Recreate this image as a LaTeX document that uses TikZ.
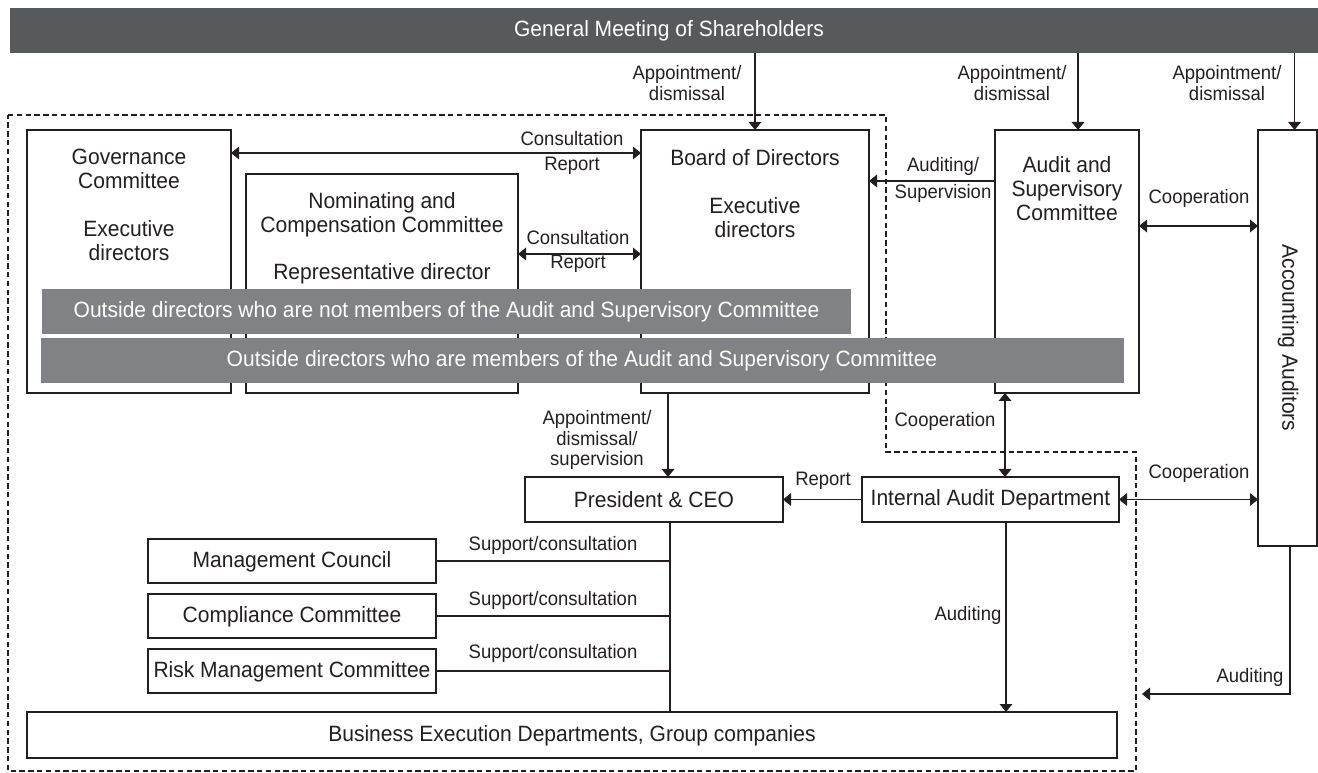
\documentclass[tikz,border=0pt]{standalone}
\usepackage{fontspec}
\setmainfont[FakeStretch=0.95]{Liberation Sans}
\usetikzlibrary{arrows.meta,calc}
\definecolor{ink}{HTML}{231F20}
\definecolor{darkbar}{HTML}{58595B}
\definecolor{midbar}{HTML}{808285}
\begin{document}
\begin{tikzpicture}[x=0.75pt,y=-0.75pt,
  every node/.style={text=ink, inner sep=0pt, outer sep=0pt},
  wh/.style 2 args={minimum width=#1*0.75pt, minimum height=#2*0.75pt},
  box/.style={draw=ink, line width=1.1pt, fill=white, rectangle},
  bar/.style={fill=midbar, rectangle, draw=none},
  main/.style={font=\fontsize{16.6}{18}\selectfont, align=center},
  lbl/.style={font=\fontsize{14.6}{15.3}\selectfont, align=center},
  conn/.style={draw=ink, line width=0.8pt},
  arr/.style={conn, -{Triangle[length=6pt,width=9.5pt]}},
  darr/.style={conn, {Triangle[length=6pt,width=9.5pt]}-{Triangle[length=6pt,width=9.5pt]}},
  frame/.style={draw=ink, line width=1.2pt, dash pattern=on 4pt off 2.6pt}
]
\useasboundingbox (0,0) rectangle (1318,773);

% dashed boundary
\draw[frame] (8,115) -- (886,115) -- (886,452) -- (1136,452) -- (1136,771) -- (8,771) -- cycle;

% top bar
\node[rectangle, fill=darkbar, wh={1308}{45}] (gm) at (664,30.5) {};
\node[main, text=white] (gmt) at (669,31) {General Meeting of Shareholders};

% boxes
\node[box, wh={204}{263}] (gov) at (129,261.5) {};
\node[box, wh={272}{219}] (nom) at (382,283.5) {};
\node[box, wh={228}{263}] (board) at (755,261.5) {};
\node[box, wh={144}{263}] (audit) at (1067,261.5) {};
\node[box, wh={59}{416}] (acc) at (1287.5,338) {};
\node[box, wh={258}{45}] (pres) at (654,499.5) {};
\node[box, wh={257}{45}] (ia) at (990.5,499.5) {};
\node[box, wh={288}{44}] (mc) at (292,561) {};
\node[box, wh={288}{44}] (cc) at (292,616) {};
\node[box, wh={288}{44}] (rmc) at (292,671) {};
\node[box, wh={1090}{46}] (bus) at (572,735) {};

% box texts
\node[main] (govt1) at (129,168.5) {Governance\\Committee};
\node[main] (govt2) at (129,240.5) {Executive\\directors};
\node[main] (nomt1) at (382,214.5) {Nominating and\\Compensation Committee};
\node[main] (nomt2) at (382,274) {Representative director};
\node[main] (boardt1) at (755,158) {Board of Directors};
\node[main] (boardt2) at (755,217.5) {Executive\\directors};
\node[main] (auditt) at (1067,189) {Audit and\\Supervisory\\Committee};
\node[main, rotate=-90] (acct) at (1288,338) {Accounting Auditors};
\node[main] (prest) at (654,500) {President \& CEO};
\node[main] (iat) at (990.5,500) {Internal Audit Department};
\node[main] (mct) at (292,562) {Management Council};
\node[main] (cct) at (292,617) {Compliance Committee};
\node[main] (rmct) at (292,672) {Risk Management Committee};
\node[main] (bust) at (572,736) {Business Execution Departments, Group companies};

% connectors
\draw[arr] (board.north |- gm.south) -- (board.north);
\draw[arr] ($(audit.north |- gm.south)+(11,0)$) -- ($(audit.north)+(11,0)$);
\draw[arr] ($(acc.north |- gm.south)+(7,0)$) -- ($(acc.north)+(7,0)$);
\draw[darr] (gov.east |- 0,153) -- (board.west |- 0,153);
\draw[darr] (nom.east |- 0,254) -- (board.west |- 0,254);
\draw[arr] (audit.west |- 0,181) -- (board.east |- 0,181);
\draw[darr] (audit.east |- 0,226) -- (acc.west |- 0,226);
\draw[arr] (board.south -| 668,0) -- (pres.north -| 668,0);
\draw[arr] (ia.west) -- (pres.east);
\draw[darr] (audit.south -| 1005,0) -- (ia.north -| 1005,0);
\draw[darr] (ia.east) -- (acc.west |- ia.east);
\draw[conn] (pres.south -| 670,0) -- (bus.north -| 670,0);
\draw[conn] (mc.east) -- (mc.east -| 670,0);
\draw[conn] (cc.east) -- (cc.east -| 670,0);
\draw[conn] (rmc.east) -- (rmc.east -| 670,0);
\draw[arr] (ia.south -| 1006,0) -- (bus.north -| 1006,0);
\coordinate (audend) at (1142,694);
\draw[arr] (acc.south -| 1290,0) |- (audend);

% gray bars
\node[bar, wh={809}{45}] (bar1) at (446.5,311.5) {};
\node[main, text=white] (bar1t) at (446.5,312) {Outside directors who are not members of the Audit and Supervisory Committee};
\node[bar, wh={1083}{45}] (bar2) at (582.5,360.5) {};
\node[main, text=white] (bar2t) at (582,361) {Outside directors who are members of the Audit and Supervisory Committee};

% labels
\node[lbl] (l1) at (687,83) {Appointment/\\dismissal};
\node[lbl] (l2) at (1012,83) {Appointment/\\dismissal};
\node[lbl] (l3) at (1227,83) {Appointment/\\dismissal};
\node[lbl] (l4) at (572,139) {Consultation};
\node[lbl] (l5) at (572,166) {Report};
\node[lbl] (l6) at (578,238) {Consultation};
\node[lbl] (l7) at (578,264) {Report};
\node[lbl] (l8) at (943,166) {Auditing/};
\node[lbl] (l9) at (943,193) {Supervision};
\node[lbl] (l10) at (1199,198) {Cooperation};
\node[lbl] (l11) at (597,440) {Appointment/\\dismissal/\\supervision};
\node[lbl] (l12) at (823,481) {Report};
\node[lbl] (l13) at (945,421) {Cooperation};
\node[lbl] (l14) at (1199,473) {Cooperation};
\node[lbl] (l15) at (553,545) {Support/consultation};
\node[lbl] (l16) at (553,600) {Support/consultation};
\node[lbl] (l17) at (553,653) {Support/consultation};
\node[lbl] (l18) at (968,615) {Auditing};
\node[lbl] (l19) at (1250,677) {Auditing};
\end{tikzpicture}
\end{document}
